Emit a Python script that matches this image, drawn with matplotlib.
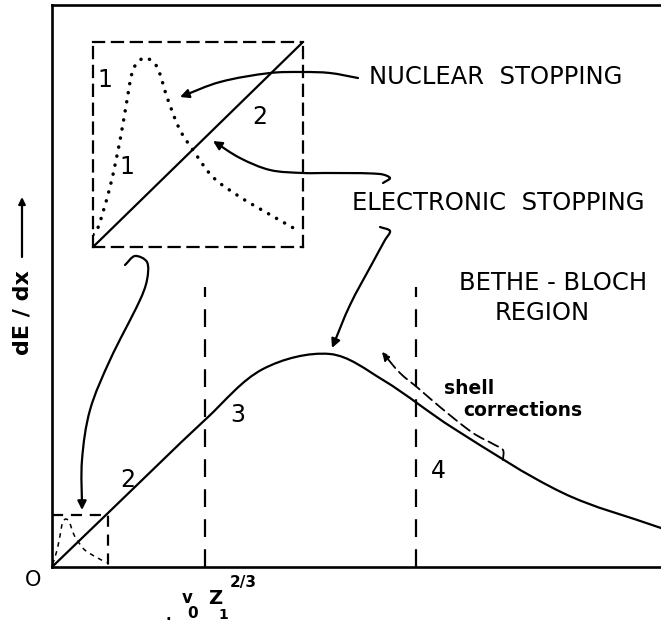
import matplotlib
matplotlib.use("Agg")
import numpy as np
import matplotlib.pyplot as plt
from matplotlib.patches import FancyArrowPatch, PathPatch
from matplotlib.path import Path

# ---- data (arbitrary units: velocity along x, dE/dx along y) ----
# electronic stopping curve of the full range
elec_v = [0, 56, 155, 211, 278, 331, 401, 511, 609]
elec_s = [0, 54, 149, 198, 213, 187, 139, 74, 39]

# region boundaries (dashed verticals)
bound_v = [153, 364]
bound_top = 280

# low-velocity window shown enlarged in the inset
window_v = 56
window_s = 52

# nuclear stopping in the window (normalised 0..1 units)
nuc_u = [0.0, 0.02, 0.081, 0.129, 0.162, 0.19, 0.224, 0.257, 0.305, 0.352,
         0.414, 0.476, 0.571, 0.70, 0.829, 0.971]
nuc_v = [0.06, 0.083, 0.293, 0.522, 0.717, 0.863, 0.912, 0.922, 0.878, 0.732,
         0.571, 0.473, 0.341, 0.244, 0.166, 0.083]

# electronic stopping in the window (linear, normalised)
lin_u = [0.0, 1.0]
lin_v = [0.0, 1.0]

LW = 1.6
INK = "black"


def smooth_path(xs, ys):
    """Cubic Bezier path through every point, tangents from chord lengths."""
    p = np.column_stack([xs, ys]).astype(float)
    n = len(p)
    d = np.linalg.norm(np.diff(p, axis=0), axis=1)
    d[d == 0] = 1e-9
    t = np.concatenate([[0], np.cumsum(d)])
    m = np.zeros_like(p)
    for i in range(n):
        a, b = max(i - 1, 0), min(i + 1, n - 1)
        m[i] = (p[b] - p[a]) / (t[b] - t[a])
    verts = [p[0]]
    codes = [Path.MOVETO]
    for i in range(n - 1):
        h = d[i]
        verts += [p[i] + m[i] * h / 3.0, p[i + 1] - m[i + 1] * h / 3.0,
                  p[i + 1]]
        codes += [Path.CURVE4] * 3
    return Path(np.array(verts), codes)


fig = plt.figure(figsize=(6.61, 6.22), dpi=100)
fig.patch.set_facecolor("white")

ax = fig.add_axes([52 / 661, 55 / 622, 609 / 661, 562 / 622])
ax.set_xlim(0, 609)
ax.set_ylim(0, 562)
ax.set_xticks([])
ax.set_yticks([])
ax.spines["right"].set_visible(False)
for s in ("left", "top", "bottom"):
    ax.spines[s].set_linewidth(LW + 0.3)
    ax.spines[s].set_color(INK)

# main electronic stopping curve
ax.add_patch(PathPatch(smooth_path(elec_v, elec_s), fill=False, ec=INK,
                       lw=LW, capstyle="round", joinstyle="round",
                       clip_on=False))

# region boundaries
for xv in bound_v:
    ax.plot([xv, xv], [0, bound_top], color=INK, lw=LW,
            linestyle=(0, (8, 5.5)))

# window box at the origin
ax.plot([0, window_v, window_v], [window_s, window_s, 0], color=INK, lw=LW,
        linestyle=(0, (5, 3.5)))
ax.add_patch(PathPatch(smooth_path([u * window_v for u in nuc_u],
                                   [v * window_s for v in nuc_v]),
                       fill=False, ec=INK, lw=1.1, linestyle=(0, (3, 3))))

# ---- inset: enlarged low-velocity window ----
ins = fig.add_axes([93 / 661, (622 - 247) / 622, 210 / 661, 205 / 622])
ins.set_facecolor("none")
ins.set_xlim(0, 1)
ins.set_ylim(0, 1)
ins.set_xticks([])
ins.set_yticks([])
for s in ins.spines.values():
    s.set_linestyle((0, (5, 3.5)))
    s.set_linewidth(LW)
    s.set_color(INK)
ins.plot(lin_u, lin_v, color=INK, lw=LW, solid_capstyle="round")
ins.add_patch(PathPatch(smooth_path(nuc_u, nuc_v), fill=False, ec=INK,
                        lw=2.5, linestyle=(0, (0.05, 2.6)),
                        capstyle="round"))

num_font = dict(family="DejaVu Sans", fontsize=17, color=INK,
                ha="center", va="center")
ins.text(0.057, 0.815, "1", transform=ins.transAxes, **num_font)
ins.text(0.162, 0.39, "1", transform=ins.transAxes, **num_font)
ins.text(0.795, 0.633, "2", transform=ins.transAxes, **num_font)


# ---- annotation arrows ----
def curve_arrow(pts, lw=LW, ls="-", scale=13):
    xs, ys = zip(*pts)
    arr = FancyArrowPatch(path=smooth_path(xs, ys), arrowstyle="-|>",
                          mutation_scale=scale, color=INK, lw=lw,
                          linestyle=ls, transform=ax.transData,
                          clip_on=False, joinstyle="round",
                          capstyle="round")
    ax.add_patch(arr)


nuclear_arrow = [(306, 489), (278, 494), (251, 495), (218, 494), (168, 485),
                 (128, 470)]
electronic_inset_arrow = [(331, 384), (338, 389), (328, 393), (278, 394),
                          (251, 394), (218, 397), (188, 409), (161, 426)]
electronic_main_arrow = [(328, 340), (338, 336), (333, 327), (321, 305),
                         (298, 262), (280, 219)]
window_arrow = [(73, 302), (83, 311), (95, 305), (95, 287), (88, 267),
                (58, 207), (38, 157), (30, 107), (30, 57)]
curve_arrow(nuclear_arrow)
curve_arrow(electronic_inset_arrow)
curve_arrow(electronic_main_arrow)
curve_arrow(window_arrow)

# shell corrections marker (dashed, parallel to the falling curve)
shell_path = [(451, 107), (451, 117), (443, 122), (421, 134), (388, 160),
              (366, 179), (348, 194), (330, 215)]
curve_arrow(shell_path, lw=1.3, ls=(0, (6, 3)), scale=12)

# ---- labels ----
cap_font = dict(family="DejaVu Sans", fontsize=17.5, color=INK,
                ha="center", va="center")
ax.text(443.5, 490, "NUCLEAR  STOPPING", **cap_font)
ax.text(446, 364, "ELECTRONIC  STOPPING", **cap_font)
ax.text(501, 284, "BETHE - BLOCH", **cap_font)
ax.text(490, 254, "REGION", **cap_font)

small_font = dict(family="DejaVu Sans", fontsize=13.5, fontweight="bold",
                  color=INK, ha="center", va="center")
ax.text(417, 178, "shell", **small_font)
ax.text(471, 156, "corrections", **small_font)

ax.text(76, 87, "2", **num_font)
ax.text(186, 152, "3", **num_font)
ax.text(386, 96, "4", **num_font)

# axis annotations
ax.text(-19, -13, "O", family="DejaVu Sans", fontsize=15, color=INK,
        ha="center", va="center", clip_on=False)
ax.text(-30, 254, "dE / dx", family="DejaVu Sans", fontsize=16,
        fontweight="bold", color=INK, rotation=90, ha="center", va="center",
        clip_on=False)
ax.annotate("", xy=(-30, 370), xytext=(-30, 310), xycoords="data",
            textcoords="data", annotation_clip=False,
            arrowprops=dict(arrowstyle="-|>", color=INK, lw=LW,
                            mutation_scale=10, shrinkA=0, shrinkB=0))

lbl = dict(family="DejaVu Sans", color=INK, fontweight="bold",
           ha="center", va="center", clip_on=False)
ax.text(135, -31, "v", fontsize=12, **lbl)
ax.text(141, -46, "0", fontsize=11, **lbl)
ax.text(163, -31, "Z", fontsize=14, **lbl)
ax.text(171, -48, "1", fontsize=10, **lbl)
ax.text(191, -16, "2/3", fontsize=11, **lbl)
ax.text(116, -48, ".", fontsize=11, **lbl)

fig.savefig("out.png", dpi=100, facecolor="white")
